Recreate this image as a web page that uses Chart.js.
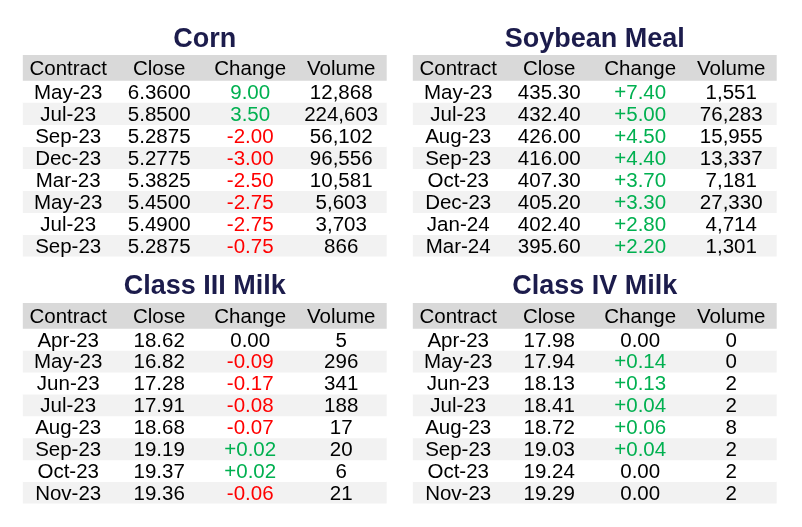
<!DOCTYPE html>
<html lang="en">

<head>
    <meta charset="UTF-8">
    <script src="https://cdn.jsdelivr.net/npm/chart.js"></script>
    <title>Futures Settlements</title>
    <style>
        body { margin: 0; background: #ffffff; }
        .quadro { position: absolute; }
    </style>
</head>

<body>
    <div class="quadro" style="left:0px;top:0px;"><canvas id="tabCorn" width="401" height="263"></canvas></div>
    <div class="quadro" style="left:401px;top:0px;"><canvas id="tabSoy" width="401" height="263"></canvas></div>
    <div class="quadro" style="left:0px;top:263px;"><canvas id="tabMilk3" width="401" height="264"></canvas></div>
    <div class="quadro" style="left:401px;top:263px;"><canvas id="tabMilk4" width="401" height="264"></canvas></div>

    <script>
        // column headers
        const columns = ['Contract', 'Close', 'Change', 'Volume'];

        // Corn
        const cornContracts = ['May-23', 'Jul-23', 'Sep-23', 'Dec-23', 'Mar-23', 'May-23', 'Jul-23', 'Sep-23'];
        const cornClose = [6.3600, 5.8500, 5.2875, 5.2775, 5.3825, 5.4500, 5.4900, 5.2875];
        const cornChange = [9.00, 3.50, -2.00, -3.00, -2.50, -2.75, -2.75, -0.75];
        const cornVolume = [12868, 224603, 56102, 96556, 10581, 5603, 3703, 866];

        // Soybean Meal
        const soyContracts = ['May-23', 'Jul-23', 'Aug-23', 'Sep-23', 'Oct-23', 'Dec-23', 'Jan-24', 'Mar-24'];
        const soyClose = [435.30, 432.40, 426.00, 416.00, 407.30, 405.20, 402.40, 395.60];
        const soyChange = [7.40, 5.00, 4.50, 4.40, 3.70, 3.30, 2.80, 2.20];
        const soyVolume = [1551, 76283, 15955, 13337, 7181, 27330, 4714, 1301];

        // Class III Milk
        const milk3Contracts = ['Apr-23', 'May-23', 'Jun-23', 'Jul-23', 'Aug-23', 'Sep-23', 'Oct-23', 'Nov-23'];
        const milk3Close = [18.62, 16.82, 17.28, 17.91, 18.68, 19.19, 19.37, 19.36];
        const milk3Change = [0.00, -0.09, -0.17, -0.08, -0.07, 0.02, 0.02, -0.06];
        const milk3Volume = [5, 296, 341, 188, 17, 20, 6, 21];

        // Class IV Milk
        const milk4Contracts = ['Apr-23', 'May-23', 'Jun-23', 'Jul-23', 'Aug-23', 'Sep-23', 'Oct-23', 'Nov-23'];
        const milk4Close = [17.98, 17.94, 18.13, 18.41, 18.72, 19.03, 19.24, 19.29];
        const milk4Change = [0.00, 0.14, 0.13, 0.04, 0.06, 0.04, 0.00, 0.00];
        const milk4Volume = [0, 0, 2, 2, 8, 2, 2, 2];

        const HEADER_SPAN = 1.16;
        const FONTE = '"Liberation Sans", Arial, sans-serif';

        function corDaVariacao(v) {
            if (v > 0) return '#00b050';
            if (v < 0) return '#ff0000';
            return '#000000';
        }

        function formatarVariacao(v, comSinal) {
            const txt = v.toFixed(2);
            return (comSinal && v > 0) ? '+' + txt : txt;
        }

        // draws the cell texts using the chart scales
        const textoTabela = {
            id: 'textoTabela',
            afterDatasetsDraw(chart, args, opts) {
                const ctx = chart.ctx;
                const xs = chart.scales.col;
                const ys = chart.scales.y;
                ctx.save();
                ctx.font = '20.5px ' + FONTE;
                ctx.textAlign = 'center';
                ctx.textBaseline = 'middle';

                ctx.fillStyle = '#000000';
                const yHead = ys.getPixelForValue(-HEADER_SPAN / 2);
                columns.forEach((c, j) => ctx.fillText(c, xs.getPixelForValue(j + 0.5), yHead + 1.5));

                opts.contracts.forEach((contrato, i) => {
                    const y = ys.getPixelForValue(i + 0.5) + 1.5;
                    ctx.fillStyle = '#000000';
                    ctx.fillText(contrato, xs.getPixelForValue(0.5), y);
                    ctx.fillText(opts.close[i].toFixed(opts.decimals), xs.getPixelForValue(1.5), y);
                    ctx.fillStyle = corDaVariacao(opts.change[i]);
                    ctx.fillText(formatarVariacao(opts.change[i], opts.plus), xs.getPixelForValue(2.5), y);
                    ctx.fillStyle = '#000000';
                    ctx.fillText(opts.volume[i].toLocaleString('en-US'), xs.getPixelForValue(3.5), y);
                });
                ctx.restore();
            }
        };

        function criarTabela(id, titulo, contracts, close, change, volume, decimals, plus, pad, tituloPad) {
            // one floating bar per row: header band then striped rows
            const datasets = [{
                data: [[-HEADER_SPAN, 0]],
                backgroundColor: '#d9d9d9'
            }];
            contracts.forEach((c, i) => {
                datasets.push({
                    data: [[i, i + 1]],
                    backgroundColor: i % 2 === 1 ? '#f2f2f2' : '#ffffff'
                });
            });
            datasets.forEach(d => {
                d.barPercentage = 1;
                d.categoryPercentage = 1;
                d.borderWidth = 0;
            });

            new Chart(document.getElementById(id), {
                type: 'bar',
                data: { labels: [''], datasets: datasets },
                options: {
                    responsive: false,
                    animation: false,
                    events: [],
                    layout: { padding: pad },
                    scales: {
                        x: { type: 'category', stacked: true, display: false },
                        col: { axis: 'x', type: 'linear', offset: false, min: 0, max: columns.length, display: false },
                        y: { type: 'linear', reverse: true, offset: false, min: -HEADER_SPAN, max: contracts.length, display: false }
                    },
                    plugins: {
                        legend: { display: false },
                        tooltip: { enabled: false },
                        title: {
                            display: true,
                            text: titulo,
                            color: '#1c1c4c',
                            font: { family: FONTE, size: 27, weight: 'bold', lineHeight: 1.1 },
                            padding: tituloPad
                        },
                        textoTabela: { contracts, close, change, volume, decimals, plus }
                    }
                },
                plugins: [textoTabela]
            });
        }

        criarTabela('tabCorn', 'Corn', cornContracts, cornClose, cornChange, cornVolume, 4, false,
            { left: 22.7, right: 14.3, top: 0, bottom: 6.4 }, { top: 24.3, bottom: 1 });
        criarTabela('tabSoy', 'Soybean Meal', soyContracts, soyClose, soyChange, soyVolume, 2, true,
            { left: 11.7, right: 25.3, top: 0, bottom: 6.4 }, { top: 24.3, bottom: 1 });
        criarTabela('tabMilk3', 'Class III Milk', milk3Contracts, milk3Close, milk3Change, milk3Volume, 2, true,
            { left: 22.7, right: 14.3, top: 0, bottom: 23.4 }, { top: 8.65, bottom: 1.65 });
        criarTabela('tabMilk4', 'Class IV Milk', milk4Contracts, milk4Close, milk4Change, milk4Volume, 2, true,
            { left: 11.7, right: 25.3, top: 0, bottom: 23.4 }, { top: 8.65, bottom: 1.65 });
    </script>
</body>

</html>
